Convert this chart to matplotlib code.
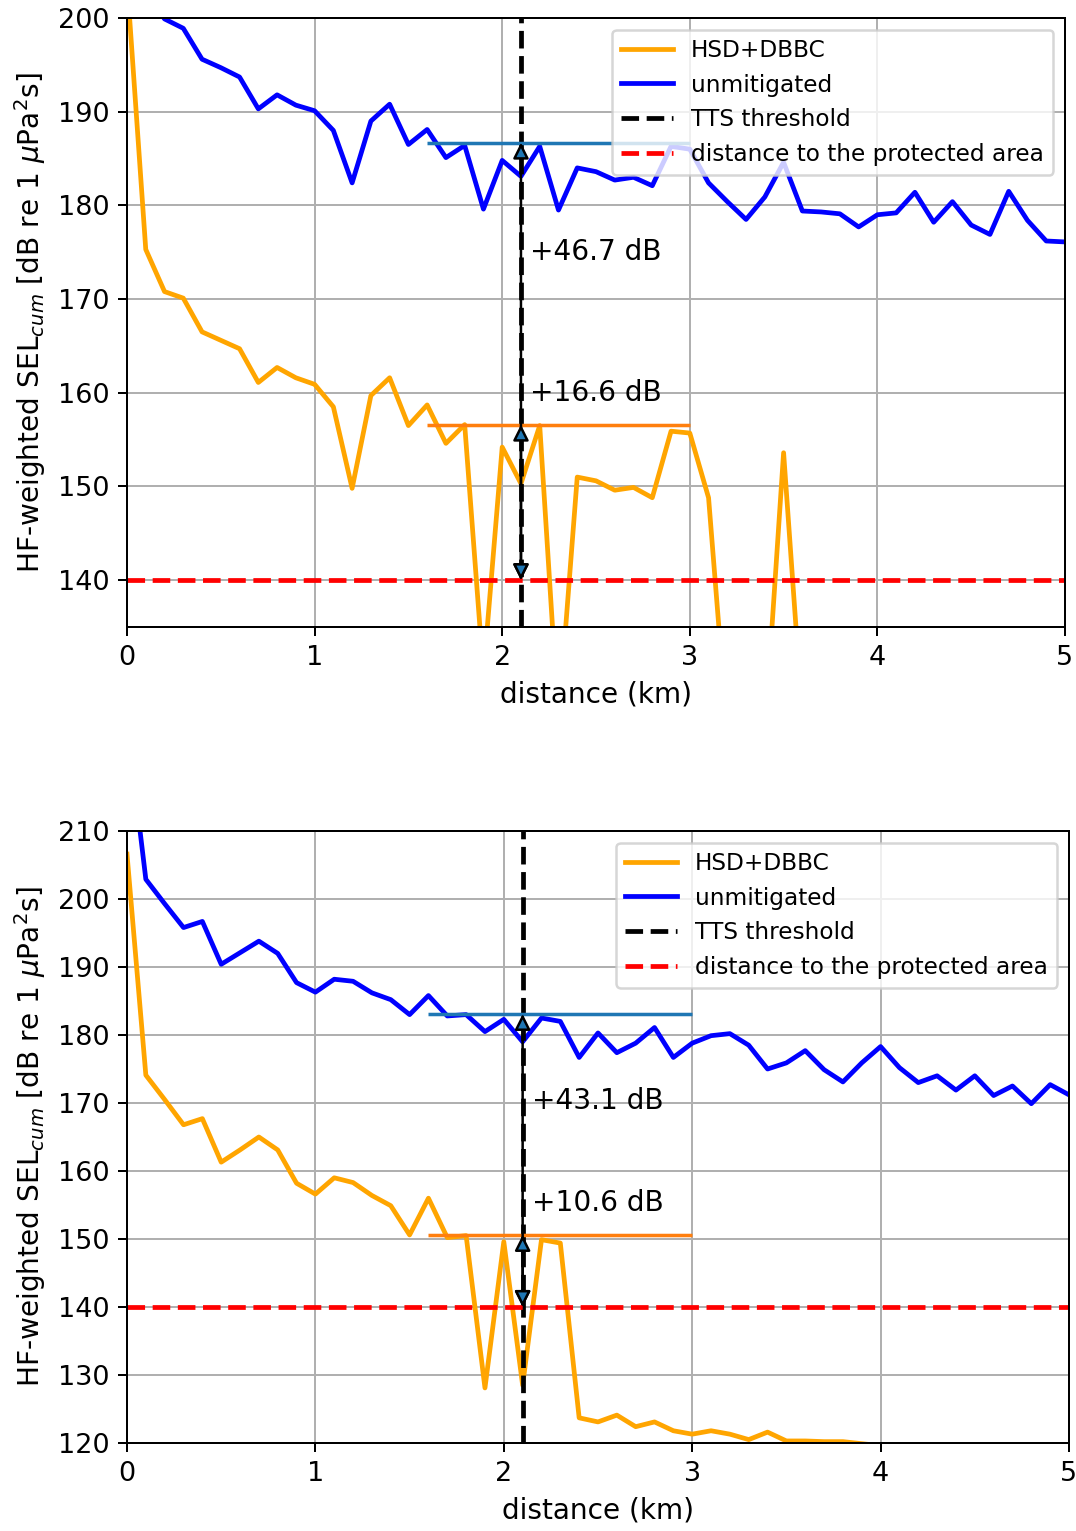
import numpy as np
from matplotlib import pyplot as plt

distance = np.round(np.arange(0, 5.01, 0.1), 1)

# upper panel
hsd_top = [204.0, 175.3, 170.8, 170.1, 166.5, 165.6, 164.7, 161.1, 162.7, 161.6,
           160.9, 158.5, 149.8, 159.7, 161.6, 156.5, 158.7, 154.6, 156.6, 130.0,
           154.2, 150.3, 156.5, 125.0, 151.0, 150.6, 149.6, 149.9, 148.8, 155.9,
           155.7, 148.8, 123.7, 122.5, 123.6, 153.6, 125.4, 123.0, 122.0, 121.5,
           121.0, 120.8, 120.5, 120.3, 120.0, 120.2, 119.8, 119.5, 119.3, 119.0,
           118.8]
unmit_top = [212.0, 203.0, 199.9, 198.9, 195.6, 194.7, 193.7, 190.3, 191.8, 190.7,
             190.1, 188.0, 182.4, 189.0, 190.8, 186.5, 188.1, 185.1, 186.4, 179.6,
             184.8, 183.1, 186.3, 179.5, 184.0, 183.6, 182.7, 183.0, 182.1, 186.3,
             186.0, 182.4, 180.4, 178.5, 180.9, 184.6, 179.4, 179.3, 179.1, 177.7,
             179.0, 179.2, 181.4, 178.2, 180.4, 177.9, 176.9, 181.5, 178.4, 176.2,
             176.1]

# lower panel
hsd_bot = [206.6, 174.1, 170.5, 166.8, 167.7, 161.3, 163.1, 165.0, 163.1, 158.2,
           156.6, 159.0, 158.3, 156.4, 154.9, 150.6, 156.0, 150.2, 150.5, 128.1,
           149.6, 128.5, 149.9, 149.4, 123.7, 123.1, 124.1, 122.4, 123.1, 121.8,
           121.3, 121.8, 121.3, 120.5, 121.6, 120.3, 120.3, 120.2, 120.2, 119.9,
           119.6, 119.4, 119.2, 119.0, 118.8, 118.6, 118.5, 118.3, 118.2, 118.0,
           117.9]
unmit_bot = [226.0, 202.9, 199.3, 195.8, 196.7, 190.4, 192.1, 193.8, 192.0, 187.7,
             186.3, 188.2, 187.9, 186.2, 185.2, 183.0, 185.8, 182.8, 183.0, 180.5,
             182.3, 179.0, 182.5, 182.0, 176.7, 180.3, 177.4, 178.8, 181.1, 176.7,
             178.8, 179.9, 180.2, 178.5, 175.0, 175.9, 177.7, 174.9, 173.1, 175.9,
             178.3, 175.2, 173.0, 174.0, 171.9, 174.0, 171.1, 172.5, 169.9, 172.7,
             171.2]

tts_distance = 2.1
protected_level = 140
levels_top = [186.7, 156.6]
levels_bot = [183.1, 150.6]
labels_top = ['+46.7 dB', '+16.6 dB']
labels_bot = ['+43.1 dB', '+10.6 dB']
text_y_top = [175, 160]
text_y_bot = [170.3, 155.3]


def panel(ax, hsd, unmit, levels, labels, text_y, ylim, yticks):
    ax.plot(distance, hsd, color='orange', lw=1.9, label='HSD+DBBC')
    ax.plot(distance, unmit, color='blue', lw=1.9, label='unmitigated')
    ax.axvline(tts_distance, color='k', ls='--', lw=1.9, label='TTS threshold')
    ax.axhline(protected_level, color='r', ls='--', lw=1.9,
               label='distance to the protected area')
    ax.hlines(levels[0], 1.6, 3.0, color='C0', lw=1.4)
    ax.hlines(levels[1], 1.6, 3.0, color='C1', lw=1.4)
    for lev, lab, ty in zip(levels, labels, text_y):
        ax.annotate('', xy=(tts_distance, lev), xytext=(tts_distance, protected_level),
                    arrowprops=dict(arrowstyle='<|-|>', mutation_scale=13,
                                    shrinkA=0, shrinkB=0))
        ax.text(tts_distance + 0.05, ty, lab, va='center', fontsize=11.2)
    ax.set_xlim(0, 5)
    ax.set_ylim(*ylim)
    ax.set_yticks(yticks)
    ax.tick_params(labelsize=10.8)
    ax.grid(True)
    ax.set_xlabel('distance (km)', fontsize=11.2)
    ax.set_ylabel(r'HF-weighted SEL$_{cum}$ [dB re 1 $\mu$Pa$^2$s]', fontsize=11.2)
    ax.legend(loc='upper right', fontsize=9.3, handlelength=2.2)


fig = plt.figure(figsize=(1076 / 180, 1531 / 180), dpi=180)
ax1 = fig.add_axes([127 / 1076, 1 - 627 / 1531, 938 / 1076, 609 / 1531])
ax2 = fig.add_axes([127 / 1076, 1 - 1443 / 1531, 942 / 1076, 612 / 1531])

panel(ax1, hsd_top, unmit_top, levels_top, labels_top, text_y_top,
      (135, 200), np.arange(140, 201, 10))
panel(ax2, hsd_bot, unmit_bot, levels_bot, labels_bot, text_y_bot,
      (120, 210), np.arange(120, 211, 10))

fig.savefig('out.png', dpi=180)
